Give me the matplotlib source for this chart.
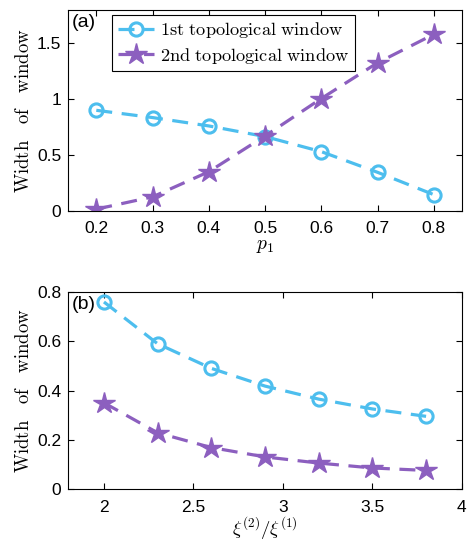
import numpy as np
import matplotlib.pyplot as plt

plt.rcParams['font.family'] = ['Liberation Sans', 'DejaVu Sans']
plt.rcParams['mathtext.fontset'] = 'cm'

# panel (a)
p1 = [0.2, 0.3, 0.4, 0.5, 0.6, 0.7, 0.8]
win1_a = [0.90, 0.835, 0.76, 0.665, 0.53, 0.345, 0.145]
win2_a = [0.015, 0.125, 0.35, 0.67, 1.005, 1.325, 1.58]

# panel (b)
xi_ratio = [2.0, 2.3, 2.6, 2.9, 3.2, 3.5, 3.8]
win1_b = [0.76, 0.59, 0.49, 0.418, 0.365, 0.325, 0.295]
win2_b = [0.35, 0.228, 0.168, 0.13, 0.105, 0.085, 0.075]

c1 = '#4DBEEE'
c2 = '#8C5FBF'
dash = (0, (5, 3))

fig = plt.figure(figsize=(4.67, 5.42), dpi=100)
ax1 = fig.add_axes([0.146, 0.611, 0.843, 0.371])
ax2 = fig.add_axes([0.146, 0.098, 0.843, 0.363])

ylab = r'$\mathrm{Width\ \ \ of\ \ \ window}$'

def style(ax, xpad):
    ax.tick_params(direction='in', top=True, right=True, labelsize=12.5, length=4, width=0.8)
    ax.tick_params(axis='x', pad=xpad)
    ax.tick_params(axis='y', pad=5)
    for s in ax.spines.values():
        s.set_linewidth(0.8)
    ax.set_ylabel(ylab, fontsize=13.5, labelpad=3)

ax1.plot(p1, win1_a, linestyle=dash, color=c1, lw=2.3, marker='o', ms=9.5,
         mfc='none', mew=2.2, label=r'$\mathrm{1st\ topological\ window}$')
ax1.plot(p1, win2_a, linestyle=dash, color=c2, lw=2.3, marker='*', ms=16,
         label=r'$\mathrm{2nd\ topological\ window}$')
ax1.set_xlim(0.15, 0.85)
ax1.set_ylim(0, 1.8)
ax1.set_xticks(p1)
ax1.set_xticklabels([f'{v:g}' for v in p1])
ax1.set_yticks([0, 0.5, 1, 1.5])
ax1.set_yticklabels(['0', '0.5', '1', '1.5'])
ax1.set_xlabel(r'$p_1$', fontsize=14, labelpad=2)
style(ax1, 7)
leg = ax1.legend(loc='upper left', bbox_to_anchor=(0.112, 0.975), fontsize=13.2,
                 frameon=True, fancybox=False, edgecolor='black', framealpha=1,
                 handlelength=2.0, borderpad=0.3, labelspacing=0.3, handletextpad=0.3,
                 borderaxespad=0)
leg.get_frame().set_linewidth(0.8)
ax1.text(0.008, 0.98, '(a)', transform=ax1.transAxes, fontsize=14, va='top', ha='left')

ax2.plot(xi_ratio, win1_b, linestyle=dash, color=c1, lw=2.3, marker='o', ms=9.5,
         mfc='none', mew=2.2)
ax2.plot(xi_ratio, win2_b, linestyle=dash, color=c2, lw=2.3, marker='*', ms=16)
ax2.set_xlim(1.8, 4)
ax2.set_ylim(0, 0.8)
ax2.set_xticks([2, 2.5, 3, 3.5, 4])
ax2.set_xticklabels(['2', '2.5', '3', '3.5', '4'])
ax2.set_yticks([0, 0.2, 0.4, 0.6, 0.8])
ax2.set_yticklabels(['0', '0.2', '0.4', '0.6', '0.8'])
ax2.set_xlabel(r'$\xi^{(2)}/\xi^{(1)}$', fontsize=13.5, labelpad=0)
style(ax2, 8)
ax2.text(0.008, 0.98, '(b)', transform=ax2.transAxes, fontsize=14, va='top', ha='left')

fig.savefig('out.png', dpi=100)
